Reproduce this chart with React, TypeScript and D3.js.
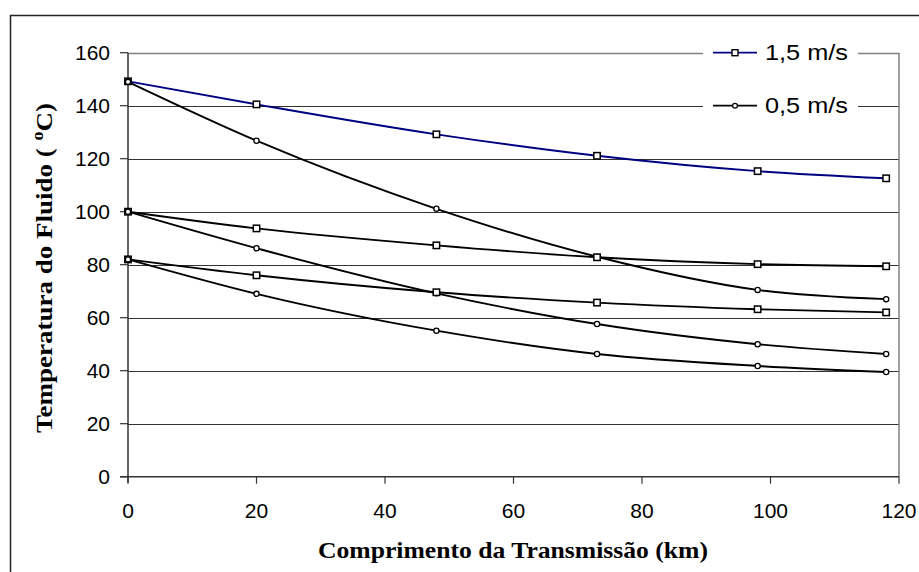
import React from "react";
import * as d3 from "d3";

const distances = [0, 20, 48, 73, 98, 118];
const fast150 = [149.2, 140.5, 129.2, 121.1, 115.3, 112.6];
const slow150 = [149.0, 126.8, 101.1, 83.0, 70.5, 67.0];
const fast100 = [100.0, 93.7, 87.3, 82.8, 80.2, 79.4];
const slow100 = [100.0, 86.2, 69.2, 57.6, 50.0, 46.3];
const fast82 = [82.0, 76.0, 69.6, 65.7, 63.2, 62.0];
const slow82 = [82.0, 69.0, 55.1, 46.3, 41.8, 39.5];
const xTicks = [0, 20, 40, 60, 80, 100, 120];
const yTicks = [0, 20, 40, 60, 80, 100, 120, 140, 160];
const legendLabels = ["1,5 m/s", "0,5 m/s"];

type Series = { values: number[]; color: string; marker: "square" | "circle" };

const series: Series[] = [
  { values: fast150, color: "#000080", marker: "square" },
  { values: slow150, color: "#000000", marker: "circle" },
  { values: fast100, color: "#000000", marker: "square" },
  { values: slow100, color: "#000000", marker: "circle" },
  { values: fast82, color: "#000000", marker: "square" },
  { values: slow82, color: "#000000", marker: "circle" },
];

const W = 919;
const H = 572;
const left = 128;
const right = 899;
const top = 52.7;
const bottom = 476.7;

export default function App() {
  const x = d3.scaleLinear().domain([0, 120]).range([left, right]);
  const y = d3.scaleLinear().domain([0, 160]).range([bottom, top]);
  const line = d3
    .line<[number, number]>()
    .x((d) => x(d[0]))
    .y((d) => y(d[1]))
    .curve(d3.curveMonotoneX);

  const marker = (kind: "square" | "circle", cx: number, cy: number, key: string) =>
    kind === "square" ? (
      <rect key={key} x={cx - 3.2} y={cy - 3.2} width={6.4} height={6.4} fill="#fff" stroke="#000" strokeWidth={1.5} />
    ) : (
      <circle key={key} cx={cx} cy={cy} r={2.6} fill="#fff" stroke="#000" strokeWidth={1.3} />
    );

  const legendY = [y(160), y(140)];

  return (
    <svg width={W} height={H} style={{ position: "absolute", left: 0, top: 0, background: "#fff" }}>
      <rect x={0} y={0} width={W} height={H} fill="#fff" />
      {/* outer border */}
      <line x1={10.5} y1={15} x2={10.5} y2={H} stroke="#222" strokeWidth={1.5} />
      <line x1={10} y1={15.5} x2={W} y2={15.5} stroke="#222" strokeWidth={1.5} />

      {/* gridlines */}
      {yTicks.filter((t) => t > 0).map((t) => (
        <line
          key={"g" + t}
          x1={left}
          x2={right}
          y1={Math.round(y(t)) + 0.5}
          y2={Math.round(y(t)) + 0.5}
          stroke={t === 160 ? "#808080" : "#333"}
          strokeWidth={t === 160 ? 1.5 : 1}
        />
      ))}
      {/* right plot border */}
      <line x1={right} x2={right} y1={y(160)} y2={y(0)} stroke="#808080" strokeWidth={1.5} />

      {/* axes */}
      <line x1={left} x2={left} y1={y(160)} y2={y(0) + 6} stroke="#333" strokeWidth={1.5} />
      <line x1={left - 8} x2={right} y1={y(0)} y2={y(0)} stroke="#333" strokeWidth={1.5} />
      {yTicks.map((t) => (
        <g key={"yt" + t}>
          <line x1={left - 8} x2={left} y1={y(t)} y2={y(t)} stroke="#333" strokeWidth={1.2} />
          <text
            x={110}
            y={y(t) + 7.5}
            textAnchor="end"
            fontFamily="Liberation Sans, Arial, sans-serif"
            fontSize={21}
            fill="#000"
          >
            {t}
          </text>
        </g>
      ))}
      {xTicks.map((t) => (
        <g key={"xt" + t}>
          <line x1={x(t)} x2={x(t)} y1={y(0)} y2={y(0) + 7} stroke="#333" strokeWidth={1.2} />
          <text
            x={x(t)}
            y={518}
            textAnchor="middle"
            fontFamily="Liberation Sans, Arial, sans-serif"
            fontSize={21}
            fill="#000"
          >
            {t}
          </text>
        </g>
      ))}

      {/* series lines */}
      {series.map((s, i) => (
        <path
          key={"l" + i}
          d={line(distances.map((d, j) => [d, s.values[j]] as [number, number])) || ""}
          fill="none"
          stroke={s.color}
          strokeWidth={1.9}
        />
      ))}
      {series.map((s, i) =>
        distances.map((d, j) => marker(s.marker, x(d), y(s.values[j]), `m${i}-${j}`))
      )}

      {/* legend */}
      <rect x={703} y={36} width={155} height={86} fill="#fff" />
      {legendLabels.map((lab, i) => (
        <g key={"lg" + i}>
          <line x1={713} x2={757} y1={legendY[i]} y2={legendY[i]} stroke={i === 0 ? "#000080" : "#000"} strokeWidth={1.8} />
          {i === 0 ? (
            <rect x={735 - 3} y={legendY[i] - 3} width={6} height={6} fill="#fff" stroke="#000" strokeWidth={1.4} />
          ) : (
            <circle cx={735} cy={legendY[i]} r={2.4} fill="#fff" stroke="#000" strokeWidth={1.2} />
          )}
          <text
            x={765}
            y={legendY[i] + 7.5}
            fontFamily="Liberation Sans, Arial, sans-serif"
            fontSize={22}
            textLength={83}
            lengthAdjust="spacingAndGlyphs"
            fill="#000"
          >
            {lab}
          </text>
        </g>
      ))}

      {/* axis titles */}
      <text
        x={513}
        y={558}
        textAnchor="middle"
        fontFamily="Liberation Serif, Times New Roman, serif"
        fontWeight="bold"
        fontSize={24}
        textLength={390}
        lengthAdjust="spacingAndGlyphs"
        fill="#000"
      >
        Comprimento da Transmissão (km)
      </text>
      <text
        transform="translate(52,268) rotate(-90)"
        textAnchor="middle"
        fontFamily="Liberation Serif, Times New Roman, serif"
        fontWeight="bold"
        fontSize={24}
        fill="#000"
        textLength={330}
        lengthAdjust="spacingAndGlyphs"
      >
        {"Temperatura do Fluido ("}
        <tspan dx={7} dy={-9} fontSize={16}>o</tspan>
        <tspan dy={9}>C)</tspan>
      </text>
    </svg>
  );
}
